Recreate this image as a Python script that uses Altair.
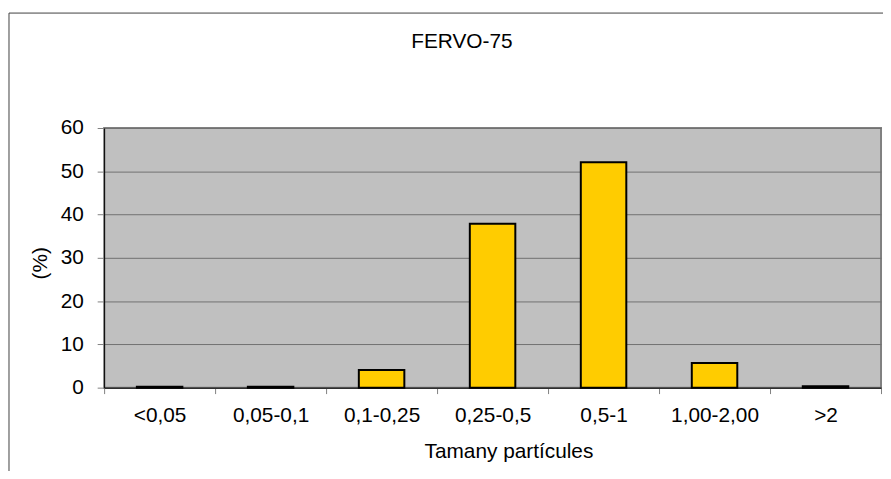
import altair as alt
import pandas as pd

categories = ["<0,05", "0,05-0,1", "0,1-0,25", "0,25-0,5", "0,5-1", "1,00-2,00", ">2"]
values = [0.2, 0.2, 4.1, 37.9, 52.1, 5.7, 0.3]
y_ticks = [0, 10, 20, 30, 40, 50, 60]
chart_title = "FERVO-75"
x_title = "Tamany partícules"
y_title = "(%)"

df = pd.DataFrame({"cat": categories, "val": values})
FONT = "Liberation Sans"
FS = 21

bars = alt.Chart(df).mark_bar(
    color="#FFCC00", stroke="#000000", strokeWidth=2,
    width=alt.RelativeBandSize(0.41)
).encode(
    x=alt.X("cat:N", sort=categories,
            scale=alt.Scale(paddingInner=0, paddingOuter=0),
            axis=alt.Axis(title=x_title, labelAngle=0, tickBand="extent",
                          tickSize=6, tickColor="#808080", domainColor="#000000",
                          labelPadding=11, labelFontSize=FS, labelFont=FONT,
                          labelColor="#000000", titleFontSize=FS, titleFont=FONT,
                          titleFontWeight="normal", titleColor="#000000",
                          titlePadding=16, titleX=408, titleAlign="center",
                          grid=False)),
    y=alt.Y("val:Q", scale=alt.Scale(domain=[0, 60], nice=False),
            axis=alt.Axis(title=y_title, values=y_ticks, tickSize=7,
                          tickColor="#808080", domainColor="#000000",
                          labelPadding=14, labelFontSize=FS, labelFont=FONT,
                          labelColor="#000000", titleFontSize=FS, titleFont=FONT,
                          titleFontWeight="normal", titleColor="#000000",
                          titlePadding=10, titleY=136, gridColor="#707070",
                          gridWidth=1, gridOpacity=1)),
)

frame = alt.Chart(alt.Data(values=[{"t": chart_title}])).mark_rect(
    fill=None, stroke="#404040", strokeWidth=1, clip=False
).encode(
    x=alt.value(-96), y=alt.value(-116), x2=alt.value(900), y2=alt.value(400)
)

title = alt.Chart(alt.Data(values=[{"t": chart_title}])).mark_text(
    font=FONT, fontSize=FS, color="#000000", align="center", baseline="alphabetic"
).encode(
    text="t:N", x=alt.value(361), y=alt.value(-81)
)

chart = alt.layer(frame, bars, title).properties(
    width=784, height=262,
    autosize=alt.AutoSizeParams(type="none"),
    padding={"left": 97, "top": 119, "right": 2, "bottom": 82},
    background="#ffffff",
).configure_view(
    fill="#C0C0C0", stroke="#808080", strokeWidth=2
)

chart.save("out.html", embed_options={"renderer": "svg", "actions": False})
